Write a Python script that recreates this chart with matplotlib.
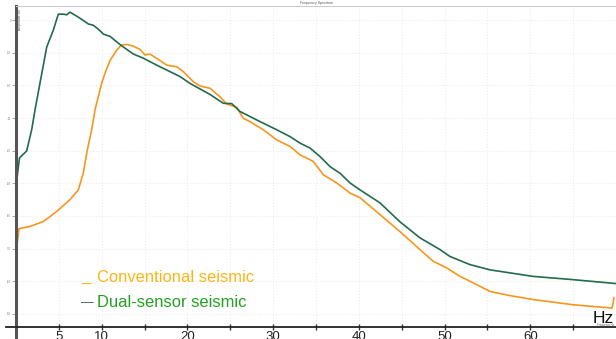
import matplotlib
matplotlib.use('Agg')
import matplotlib.pyplot as plt

# frequency (Hz) and amplitude (dB)
freq_dual = [0, 0.12, 0.41, 1.24, 1.83, 2.22, 2.8, 3.58, 4.35, 4.94,
             5.52, 5.91, 6.3, 7.08, 7.67, 8.44, 9.02, 9.61, 10.19, 10.97,
             12.13, 13.3, 13.69, 14.86, 16.41, 17.58, 19.13, 20.3, 21.47, 22.64,
             24.19, 25.17, 26.13, 28.47, 30.42, 31.97, 33.14, 34.3, 35.47, 36.64,
             37.8, 38.97, 40.13, 42.47, 44.8, 47.13, 49.47, 50.63, 52.97, 55.3,
             60.32, 64.99, 70.0]
amp_dual = [-56.6, -48.3, -42.2, -40.1, -33.6, -27.5, -19.3, -8.3, -3.1, 1.8,
            1.8, 1.6, 2.4, 1.2, 0.2, -1.2, -1.6, -2.8, -4.3, -5.0,
            -7.5, -9.7, -10.4, -11.7, -13.8, -15.3, -17.3, -19.4, -21.1, -22.8,
            -25.5, -25.6, -28.0, -31.1, -33.6, -35.7, -37.7, -39.2, -41.8, -44.9,
            -46.9, -49.9, -52.0, -56.0, -61.8, -66.7, -70.3, -72.4, -74.9, -76.5,
            -78.5, -79.5, -80.7]

freq_conv = [0, 0.12, 0.35, 1.63, 3.19, 4.75, 6.3, 7.27, 7.85, 8.32,
             8.83, 9.22, 10.0, 10.38, 10.97, 11.75, 12.33, 12.95, 13.69, 14.47,
             15.05, 15.63, 16.22, 17.58, 18.75, 19.52, 20.69, 21.47, 22.64, 23.8,
             24.58, 25.75, 26.52, 27.3, 28.85, 30.42, 31.97, 33.14, 34.69, 35.86,
             37.42, 38.97, 40.13, 42.47, 44.8, 47.13, 48.69, 50.25, 51.8, 52.97,
             55.3, 57.64, 60.36, 65.03, 69.54, 69.77]
amp_conv = [-74.0, -68.8, -63.9, -63.2, -61.7, -58.6, -55.0, -52.0, -46.9, -39.8,
            -33.6, -27.5, -19.3, -16.3, -12.4, -9.2, -7.6, -7.5, -8.0, -9.0,
            -10.7, -10.4, -11.4, -13.8, -14.3, -15.8, -18.9, -20.2, -20.9, -23.5,
            -25.7, -26.7, -30.1, -31.1, -33.6, -36.7, -38.7, -41.3, -43.3, -47.4,
            -49.9, -53.0, -54.4, -59.6, -64.8, -70.3, -73.9, -75.9, -78.5, -80.0,
            -83.1, -84.4, -85.6, -87.2, -88.2, -85.0]

x_ticks = [5, 10, 15, 20, 25, 30, 35, 40, 45, 50, 55, 60, 65]
x_labels = ['5', '10', '', '20', '', '30', '', '40', '', '50', '', '60', '']
y_ticks = [0, -10, -20, -30, -40, -50, -60, -70, -80, -90]

plt.rcParams['font.family'] = ['Liberation Sans', 'DejaVu Sans']

fig = plt.figure(figsize=(6.16, 3.39), dpi=100)
ax = fig.add_axes([16 / 616, 12 / 339, 600 / 616, 321 / 339])

ax.plot(freq_conv, amp_conv, color='#F7961F', linewidth=1.2)
ax.plot(freq_dual, amp_dual, color='#236B4C', linewidth=1.2)

ax.set_xlim(0, 70)
ax.set_ylim(-94, 4.3)

ax.set_xticks(x_ticks)
ax.set_xticklabels(x_labels, fontsize=9.5, color='#222222')
ax.set_yticks(y_ticks)
ax.set_yticklabels([str(v) for v in y_ticks], fontsize=2, color='#777777')
ax.tick_params(axis='x', direction='inout', length=5, width=1, pad=0.5, color='#333333')
ax.tick_params(axis='y', direction='out', length=3, width=0.6, pad=0.5, color='#999999')

ax.grid(True, color='#ececec', linestyle=':', linewidth=0.8)
ax.set_axisbelow(True)

ax.spines['left'].set_color('#555555')
ax.spines['left'].set_linewidth(2.2)
ax.spines['bottom'].set_color('#222222')
ax.spines['bottom'].set_linewidth(1.3)
ax.spines['top'].set_color('#cccccc')
ax.spines['top'].set_linewidth(0.8)
ax.spines['right'].set_visible(False)

# spines poke out past the corner like in the original
ax.plot([0, 0], [0, -10 / 321], transform=ax.transAxes, clip_on=False,
        color='#555555', linewidth=2.2)
ax.plot([-10 / 600, 0], [0, 0], transform=ax.transAxes, clip_on=False,
        color='#222222', linewidth=1.3)

ax.text(0.5, 1.002, 'Frequency Spectrum', transform=ax.transAxes, fontsize=2.5,
        color='#555555', ha='center', va='bottom')
ax.text(0.004, 0.99, 'Amplitude dB', transform=ax.transAxes, fontsize=2.5,
        color='#555555', rotation=90, ha='left', va='top')

# manual legend
ax.text(0.108, 0.140, '_', transform=ax.transAxes, fontsize=11.9, color='#FDB515',
        ha='left', va='baseline')
ax.text(0.135, 0.140, 'Conventional seismic', transform=ax.transAxes, fontsize=11.9,
        color='#FDB515', ha='left', va='baseline')
ax.text(0.108, 0.064, '\u2014', transform=ax.transAxes, fontsize=9, color='#2E5E45',
        ha='left', va='baseline')
ax.text(0.135, 0.062, 'Dual-sensor seismic', transform=ax.transAxes, fontsize=11.9,
        color='#22A022', ha='left', va='baseline')

ax.text(0.997, 0.013, 'Hz', transform=ax.transAxes, fontsize=12.5, color='#111111',
        ha='right', va='baseline')
ax.text(0.997, 0.002, 'Frequency Hz', transform=ax.transAxes, fontsize=2,
        color='#555555', ha='right', va='baseline')

fig.savefig('out.png', dpi=100)
